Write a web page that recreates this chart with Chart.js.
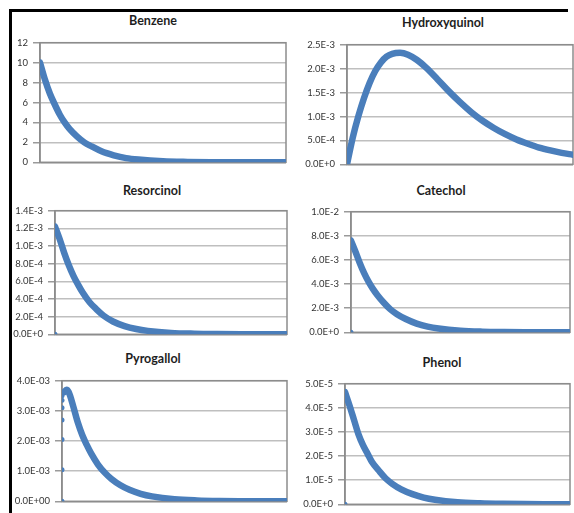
<!DOCTYPE html>
<html lang="en">
<head>
    <meta charset="UTF-8">
    <title>Concentration profiles</title>
    <script src="https://cdn.jsdelivr.net/npm/chart.js"></script>
    <style>
        body {
            margin: 0;
            width: 574px;
            height: 513px;
            overflow: hidden;
            background: #ffffff;
            position: relative;
            font-family: Lato, "Liberation Sans", sans-serif;
        }

        .frame {
            position: absolute;
            left: 9px;
            top: 9px;
            width: 556px;
            height: 520px;
            border-top: 3px solid #000000;
            border-left: 3px solid #000000;
        }

        .title {
            position: absolute;
            transform: translate(-50%, -50%);
            font-weight: bold;
            font-size: 12.5px;
            color: #1e1e1e;
            white-space: nowrap;
        }

        canvas {
            position: absolute;
        }
    </style>
</head>
<body>
    <div class="frame"></div>

    <script>
        // time axis (arbitrary units across the plot width)
        const decayTime = [0, 2, 4, 6, 8, 10, 12, 15, 18, 21, 25, 30, 35, 40, 50, 60, 70, 80, 90, 100];
        const hydroxyTime = [0, 2.5, 5, 7.5, 10, 12.5, 15, 17.5, 20, 23.5, 27, 31, 35, 40, 45, 50, 55, 60, 65, 70, 75, 80, 85, 90, 95, 100];
        const pyroTime = [1, 2, 3, 5, 7, 9, 11, 13, 16, 19, 22, 26, 30, 35, 40, 50, 60, 70, 80, 90, 100];

        // concentrations
        const benzene = [10, 8.3, 6.9, 5.8, 4.8, 4.0, 3.35, 2.6, 2.0, 1.6, 1.1, 0.7, 0.42, 0.27, 0.1, 0.04, 0.015, 0.006, 0.002, 0.001];
        const hydroxyquinol = [0, 0.55e-3, 1.0e-3, 1.38e-3, 1.7e-3, 1.95e-3, 2.13e-3, 2.25e-3, 2.31e-3, 2.33e-3, 2.29e-3, 2.18e-3, 2.02e-3,
            1.78e-3, 1.53e-3, 1.30e-3, 1.09e-3, 0.91e-3, 0.76e-3, 0.63e-3, 0.52e-3, 0.43e-3, 0.35e-3, 0.29e-3, 0.24e-3, 0.20e-3];
        const resorcinol = [1.22e-3, 1.08e-3, 0.92e-3, 0.78e-3, 0.66e-3, 0.56e-3, 0.47e-3, 0.36e-3, 0.28e-3, 0.21e-3, 0.145e-3, 0.093e-3,
            0.06e-3, 0.039e-3, 0.016e-3, 0.007e-3, 0.003e-3, 0.0012e-3, 0.0005e-3, 0.0002e-3];
        const catechol = [7.6e-3, 6.7e-3, 5.75e-3, 4.9e-3, 4.2e-3, 3.6e-3, 3.1e-3, 2.45e-3, 1.9e-3, 1.5e-3, 1.1e-3, 0.72e-3, 0.47e-3,
            0.31e-3, 0.13e-3, 0.055e-3, 0.024e-3, 0.01e-3, 0.004e-3, 0.002e-3];
        const pyrogallol = [3.62e-3, 3.7e-3, 3.62e-3, 3.15e-3, 2.62e-3, 2.2e-3, 1.87e-3, 1.58e-3, 1.22e-3, 0.95e-3, 0.74e-3, 0.53e-3,
            0.38e-3, 0.25e-3, 0.165e-3, 0.07e-3, 0.03e-3, 0.012e-3, 0.005e-3, 0.002e-3, 0.001e-3];
        const pyroStart = [0, 1.05e-3, 2.05e-3, 2.7e-3, 3.1e-3, 3.35e-3, 3.5e-3, 3.6e-3];
        const phenol = [4.65e-5, 4.1e-5, 3.5e-5, 2.9e-5, 2.45e-5, 2.1e-5, 1.75e-5, 1.4e-5, 1.08e-5, 0.85e-5, 0.62e-5, 0.42e-5, 0.28e-5,
            0.19e-5, 0.085e-5, 0.04e-5, 0.018e-5, 0.008e-5, 0.004e-5, 0.002e-5];

        // y axis ticks
        const benzeneTicks = [0, 2, 4, 6, 8, 10, 12];
        const benzeneLabels = ['0', '2', '4', '6', '8', '10', '12'];
        const hydroxyTicks = [0, 5e-4, 1e-3, 1.5e-3, 2e-3, 2.5e-3];
        const hydroxyLabels = ['0.0E+0', '5.0E-4', '1.0E-3', '1.5E-3', '2.0E-3', '2.5E-3'];
        const resorcinolTicks = [0, 2e-4, 4e-4, 6e-4, 8e-4, 1e-3, 1.2e-3, 1.4e-3];
        const resorcinolLabels = ['0.0E+0', '2.0E-4', '4.0E-4', '6.0E-4', '8.0E-4', '1.0E-3', '1.2E-3', '1.4E-3'];
        const catecholTicks = [0, 2e-3, 4e-3, 6e-3, 8e-3, 1e-2];
        const catecholLabels = ['0.0E+0', '2.0E-3', '4.0E-3', '6.0E-3', '8.0E-3', '1.0E-2'];
        const pyroTicks = [0, 1e-3, 2e-3, 3e-3, 4e-3];
        const pyroLabels = ['0.0E+00', '1.0E-03', '2.0E-03', '3.0E-03', '4.0E-03'];
        const phenolTicks = [0, 1e-5, 2e-5, 3e-5, 4e-5, 5e-5];
        const phenolLabels = ['0.0E+0', '1.0E-5', '2.0E-5', '3.0E-5', '4.0E-5', '5.0E-5'];

        const BLUE = '#4a7ebb';

        const framePlugin = {
            id: 'plotFrame',
            beforeDatasetsDraw(chart) {
                const a = chart.chartArea;
                const c = chart.ctx;
                c.save();
                c.strokeStyle = '#8c8c8c';
                c.lineWidth = 1.5;
                c.strokeRect(a.left, a.top, a.right - a.left, a.bottom - a.top);
                c.restore();
            }
        };

        function pairs(xs, ys) {
            return xs.map((x, i) => ({ x: x, y: ys[i] }));
        }

        function makeChart(opt) {
            const padT = 8, padB = 8;
            const canvas = document.createElement('canvas');
            const w = opt.right + opt.padR - opt.canvasLeft;
            const h = opt.bottom - opt.top + padT + padB;
            canvas.width = w;
            canvas.height = h;
            canvas.style.left = opt.canvasLeft + 'px';
            canvas.style.top = (opt.top - padT) + 'px';
            document.body.appendChild(canvas);

            const title = document.createElement('div');
            title.className = 'title';
            title.textContent = opt.title;
            title.style.left = opt.titleX + 'px';
            title.style.top = opt.titleY + 'px';
            document.body.appendChild(title);

            const datasets = [{
                data: pairs(opt.x, opt.y),
                borderColor: BLUE,
                backgroundColor: BLUE,
                borderWidth: 6.5,
                borderCapStyle: 'round',
                borderJoinStyle: 'round',
                pointRadius: 0,
                showLine: true,
                cubicInterpolationMode: 'monotone'
            }];
            if (opt.markers) {
                datasets.push({
                    data: opt.markers.map(v => ({ x: 0, y: v })),
                    borderColor: BLUE,
                    backgroundColor: BLUE,
                    pointRadius: 2.5,
                    borderWidth: 0,
                    showLine: false
                });
            }

            new Chart(canvas, {
                type: 'scatter',
                data: { datasets: datasets },
                options: {
                    responsive: false,
                    animation: false,
                    layout: { padding: { top: padT, bottom: padB, left: 0, right: opt.padR } },
                    plugins: { legend: { display: false }, tooltip: { enabled: false } },
                    scales: {
                        x: { type: 'linear', min: 0, max: 100, display: false },
                        y: {
                            min: 0,
                            max: opt.ticks[opt.ticks.length - 1],
                            afterBuildTicks: s => { s.ticks = opt.ticks.map(v => ({ value: v })); },
                            afterFit: s => { s.width = opt.left - opt.canvasLeft; },
                            ticks: {
                                padding: 5,
                                color: '#333333',
                                font: { family: 'Lato', size: 9.5 },
                                callback: (v, i) => opt.labels[i]
                            },
                            grid: {
                                color: c => c.tick && c.tick.value === 0 ? '#8c8c8c' : '#bfbfbf',
                                lineWidth: 1.5,
                                tickLength: 7,
                                tickColor: '#9a9a9a'
                            },
                            border: { color: '#8c8c8c', width: 1.5 }
                        }
                    }
                },
                plugins: [framePlugin]
            });
        }

        makeChart({ title: 'Benzene', titleX: 153, titleY: 20, canvasLeft: 13, padR: 4,
            left: 40, right: 286, top: 40, bottom: 165,
            x: decayTime, y: benzene, ticks: benzeneTicks, labels: benzeneLabels });

        makeChart({ title: 'Hydroxyquinol', titleX: 443, titleY: 22, canvasLeft: 296, padR: 1,
            left: 347, right: 573, top: 42, bottom: 167,
            x: hydroxyTime, y: hydroxyquinol, ticks: hydroxyTicks, labels: hydroxyLabels });

        makeChart({ title: 'Resorcinol', titleX: 152, titleY: 190, canvasLeft: 13, padR: 4,
            left: 55, right: 287, top: 208, bottom: 337,
            x: decayTime, y: resorcinol, ticks: resorcinolTicks, labels: resorcinolLabels, markers: [0] });

        makeChart({ title: 'Catechol', titleX: 441, titleY: 190, canvasLeft: 296, padR: 1,
            left: 351, right: 573, top: 209, bottom: 335,
            x: decayTime, y: catechol, ticks: catecholTicks, labels: catecholLabels, markers: [0] });

        makeChart({ title: 'Pyrogallol', titleX: 153, titleY: 358, canvasLeft: 13, padR: 4,
            left: 62, right: 287, top: 378, bottom: 504,
            x: pyroTime, y: pyrogallol, ticks: pyroTicks, labels: pyroLabels, markers: pyroStart });

        makeChart({ title: 'Phenol', titleX: 442, titleY: 362, canvasLeft: 296, padR: 1,
            left: 345, right: 573, top: 381, bottom: 507,
            x: decayTime, y: phenol, ticks: phenolTicks, labels: phenolLabels, markers: [0] });
    </script>
</body>
</html>
